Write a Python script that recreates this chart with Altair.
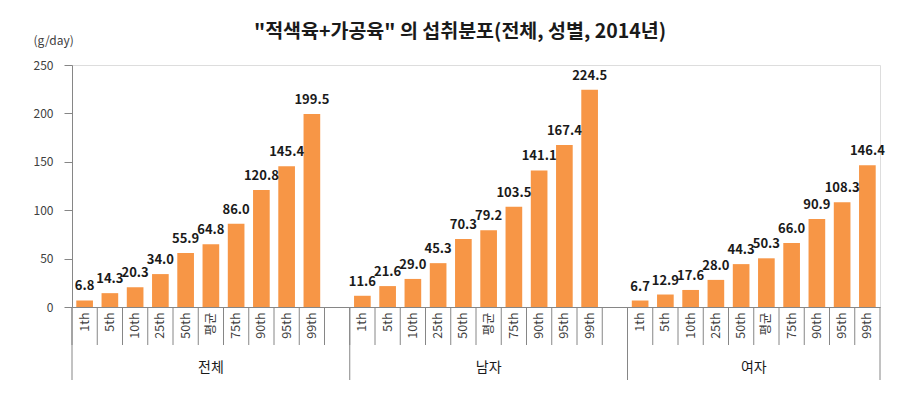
import altair as alt
import pandas as pd

groups = ["전체", "남자", "여자"]
stats = ["1th", "5th", "10th", "25th", "50th", "평균", "75th", "90th", "95th", "99th"]
total = [6.8, 14.3, 20.3, 34.0, 55.9, 64.8, 86.0, 120.8, 145.4, 199.5]
male = [11.6, 21.6, 29.0, 45.3, 70.3, 79.2, 103.5, 141.1, 167.4, 224.5]
female = [6.7, 12.9, 17.6, 28.0, 44.3, 50.3, 66.0, 90.9, 108.3, 146.4]
y_ticks = [0, 50, 100, 150, 200, 250]

series = {"전체": total, "남자": male, "여자": female}
rows = []
domain = []
for gi, g in enumerate(groups):
    for s, v in zip(stats, series[g]):
        key = f"{g}|{s}"
        rows.append({"key": key, "group": g, "stat": s, "value": v})
        domain.append(key)
    if gi < len(groups) - 1:
        domain.append(f"gap{gi}")

df = pd.DataFrame(rows)
ticks_df = pd.DataFrame({"key": domain})
starts_df = pd.DataFrame({"key": [f"{g}|{stats[0]}" for g in groups]})
end_df = pd.DataFrame({"key": [f"{groups[-1]}|{stats[-1]}"]})
glabel_mid = pd.DataFrame({"key": [f"{g}|평균" for g in groups[:2]], "label": groups[:2]})
glabel_last = pd.DataFrame({"key": [f"{groups[2]}|평균"], "label": [groups[2]]})

W, H = 808, 242
FONT = "Noto Sans CJK KR"
GRAY = "#868686"

xscale = alt.Scale(type="band", domain=domain, paddingInner=0, paddingOuter=0)
xaxis = alt.Axis(
    title=None,
    labelExpr="indexof(datum.value, '|') >= 0 ? split(datum.value, '|')[1] : ''",
    labelAngle=270,
    labelFontSize=12.5,
    labelColor="#404040",
    labelPadding=5,
    ticks=False,
    domainColor=GRAY,
    labelFont=FONT,
)

yscale = alt.Scale(domain=[0, 250], nice=False)
yaxis = alt.Axis(
    values=y_ticks,
    title="(g/day)",
    titleAngle=0,
    titleAlign="left",
    titleBaseline="middle",
    titleX=-39,
    titleY=-25,
    titleFontWeight="normal",
    titleFontSize=12,
    titleColor="#404040",
    titleFont=FONT,
    grid=False,
    tickSize=8,
    tickColor=GRAY,
    domainColor=GRAY,
    labelPadding=11,
    labelFontSize=12,
    labelColor="#404040",
    labelFont=FONT,
)

bars = alt.Chart(df).mark_bar(
    color="#F79646", width=alt.RelativeBandSize(0.66)
).encode(
    x=alt.X("key:N", scale=xscale, axis=xaxis),
    y=alt.Y("value:Q", scale=yscale, axis=yaxis),
)

values = alt.Chart(df).mark_text(
    baseline="bottom", dy=-7, fontSize=13, fontWeight="bold", font=FONT, color="#1a1a1a"
).encode(
    x=alt.X("key:N", scale=xscale),
    y=alt.Y("value:Q", scale=yscale),
    text=alt.Text("value:Q", format=".1f"),
)

short_ticks = alt.Chart(ticks_df).mark_rule(color=GRAY, strokeWidth=1).encode(
    x=alt.X("key:N", scale=xscale, bandPosition=0),
    y=alt.value(H),
    y2=alt.value(H + 38),
)

long_starts = alt.Chart(starts_df).mark_rule(color=GRAY, strokeWidth=1).encode(
    x=alt.X("key:N", scale=xscale, bandPosition=0),
    y=alt.value(H),
    y2=alt.value(H + 73),
)

long_end = alt.Chart(end_df).mark_rule(color=GRAY, strokeWidth=1).encode(
    x=alt.X("key:N", scale=xscale, bandPosition=1),
    y=alt.value(H),
    y2=alt.value(H + 73),
)

glab1 = alt.Chart(glabel_mid).mark_text(
    baseline="middle", fontSize=14, font=FONT, color="#1a1a1a"
).encode(
    x=alt.X("key:N", scale=xscale, bandPosition=0.5),
    y=alt.value(H + 61),
    text="label:N",
)

glab2 = alt.Chart(glabel_last).mark_text(
    baseline="middle", fontSize=14, font=FONT, color="#1a1a1a"
).encode(
    x=alt.X("key:N", scale=xscale, bandPosition=0),
    y=alt.value(H + 61),
    text="label:N",
)

chart = alt.layer(
    bars, values, short_ticks, long_starts, long_end, glab1, glab2
).properties(
    width=W,
    height=H,
    title=alt.TitleParams(
        text='"적색육+가공육" 의 섭취분포(전체, 성별, 2014년)',
        font=FONT,
        fontSize=19.5,
        fontWeight="bold",
        color="#1a1a1a",
        anchor="middle",
        dx=-16,
        dy=12,
        offset=4,
    ),
    autosize=alt.AutoSizeParams(type="none"),
    padding={"left": 64, "top": 57, "right": 16, "bottom": 90},
).configure_view(stroke=None).configure(background="white")

chart.save("out.html", embed_options={"renderer": "svg", "actions": False})
